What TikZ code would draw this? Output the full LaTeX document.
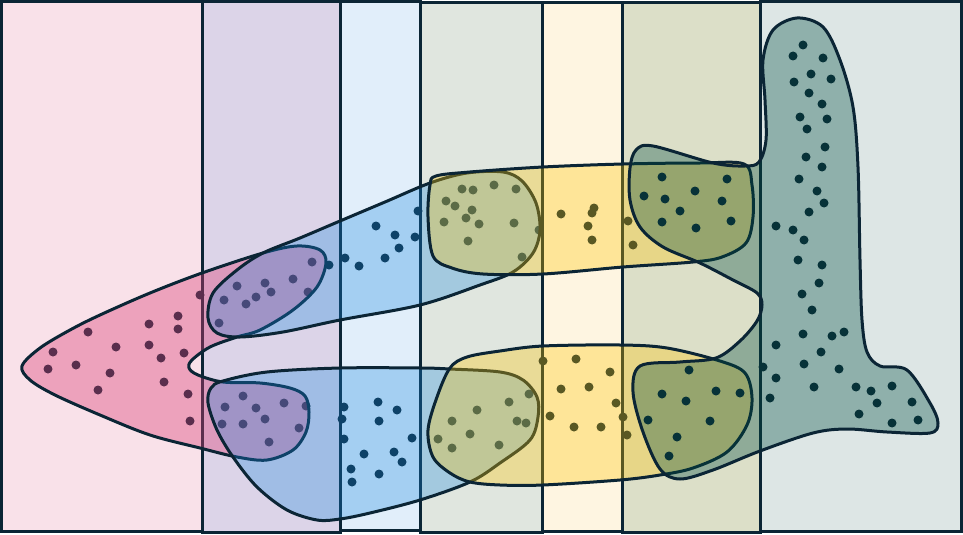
\documentclass[tikz,border=0pt]{standalone}
\usepackage{xcolor}
\usepackage{tikz}

\definecolor{ink}{HTML}{0B2535}
\definecolor{stripA}{HTML}{F9E1E9}
\definecolor{stripB}{HTML}{DCD4E8}
\definecolor{stripC}{HTML}{E1EEFA}
\definecolor{stripD}{HTML}{E0E6DF}
\definecolor{stripE}{HTML}{FEF5E1}
\definecolor{stripF}{HTML}{DCDFC8}
\definecolor{stripG}{HTML}{DDE6E5}
\definecolor{pinkset}{RGB}{220,62,117}
\definecolor{blueset}{RGB}{24,136,224}
\definecolor{yellowset}{RGB}{255,196,0}
\definecolor{tealset}{RGB}{0,76,64}

\begin{document}
\begin{tikzpicture}[x=1pt,y=-1pt,
        strip/.style={draw=ink, line width=3pt},
        blob/.style={draw=ink, line width=3pt, line join=round},
        dot/.style={fill=ink}
    ]
        \useasboundingbox (0,0) rectangle (963,535);

        % columns
        \draw[strip, fill=stripA] (1.5,1.5) rectangle (202,531);
        \draw[strip, fill=stripB] (202,2) rectangle (340,532);
        \draw[strip, fill=stripC] (340,1.5) rectangle (420,530);
        \draw[strip, fill=stripD] (420,3) rectangle (542,532);
        \draw[strip, fill=stripE] (542,3) rectangle (622,531);
        \draw[strip, fill=stripF] (622,3) rectangle (760,532);
        \draw[strip, fill=stripG] (760,2) rectangle (961,531);

        % points
        \foreach \p in {(200,295),(178,316),(149,324),(178,329),(88,332),(116,347),(149,345),(184,353),(53,352),(161,358),(48,369),(76,365),(110,373),(164,382),(98,390),(188,394),(190,421),
                (312,262),(237,286),(265,283),(271,292),(256,297),(293,279),(308,292),(224,300),(246,304),(219,323),
                (243,396),(225,407),(256,408),(284,403),(306,406),(265,419),(222,424),(243,424),(299,428),(269,442),
                (418,211),(376,226),(395,235),(415,237),(399,248),(385,258),(345,258),(359,266),(329,265),
                (344,407),(342,419),(378,402),(397,410),(379,421),(344,439),(412,438),(364,454),(394,452),(402,462),(351,469),(352,482),(379,474),
                (462,189),(473,190),(494,185),(516,189),(446,201),(455,206),(472,210),(466,218),(444,222),(479,224),(514,223),(468,241),(522,257),(539,230),
                (529,394),(509,402),(477,410),(452,421),(517,421),(526,423),(470,434),(438,439),(452,448),(499,445),
                (561,214),(594,208),(592,213),(588,226),(592,240),(628,221),(633,245),
                (543,361),(576,359),(610,372),(561,389),(589,387),(616,403),(550,416),(623,417),(574,427),(601,427),(627,435),
                (803,45),(793,56),(823,58),(811,74),(831,79),(794,82),(809,93),(822,104),(800,117),(827,119),(807,129),(825,147),(806,157),(822,167),(799,179),(817,191),(824,203),(809,212),(776,226),(793,230),(804,240),(798,260),(822,265),(819,283),(802,294),(812,310),(776,345),(803,334),(832,336),(844,332),(821,352),(763,367),(776,378),(804,364),(839,369),(814,387),(770,398),(856,387),(871,391),(892,386),(877,403),(912,402),(859,414),(892,423),(918,420)}
            \fill[dot] \p circle (4.5pt);

        % pink set
        \draw[blob, fill=pinkset, fill opacity=.38] plot[smooth cycle, tension=.55] coordinates {(22,366) (40,348) (70,330) (100,315) (150,293) (202,273) (263,253) (297,246) (320,250) (326,263) (317,287) (293,310) (260,330) (237,337) (210,347) (192,360) (189,368) (198,375) (223,382) (260,383) (290,388) (305,396) (309,412) (306,432) (293,450) (267,460) (237,457) (200,448) (150,435) (100,415) (55,395) (30,380)};

        % blue sets
        \draw[blob, fill=blueset, fill opacity=.3] plot[smooth cycle, tension=.55] coordinates {(263,253) (300,238) (340,221) (385,202) (430,183) (467,173) (503,172) (522,181) (536,203) (540,230) (533,253) (513,272) (480,285) (420,305) (340,320) (283,332) (240,337) (217,333) (208,318) (213,293) (237,270)};
        \draw[blob, fill=blueset, fill opacity=.3] plot[smooth cycle, tension=.55] coordinates {(223,381) (267,372) (340,368) (420,368) (450,369) (500,372) (523,380) (537,397) (538,417) (530,440) (500,463) (470,482) (420,500) (370,513) (340,519) (317,520) (287,510) (257,487) (233,457) (217,430) (208,403) (211,388)};

        % yellow sets
        \draw[blob, fill=yellowset, fill opacity=.32] plot[smooth cycle, tension=.55] coordinates {(436,176) (470,172) (543,167) (623,164) (700,163) (744,164) (752,185) (753,217) (746,243) (722,257) (693,262) (623,267) (543,274) (483,274) (452,268) (433,256) (428,217) (430,185)};
        \draw[blob, fill=yellowset, fill opacity=.32] plot[smooth cycle, tension=.55] coordinates {(450,368) (467,357) (500,351) (543,346) (620,345) (667,348) (720,361) (745,373) (752,398) (747,425) (727,452) (693,468) (660,475) (620,480) (543,485) (500,485) (470,482) (450,473) (433,457) (428,430) (437,397)};

        \foreach \p in {(662,177),(644,196),(665,199),(695,191),(727,179),(722,201),(680,211),(662,222),(696,228),(731,221),
                (689,370),(662,394),(686,401),(716,391),(740,393),(648,420),(710,421),(677,437),(669,456)}
            \fill[dot] \p circle (4.5pt);

        % teal set
        \draw[blob, fill=tealset, fill opacity=.35] plot[smooth cycle, tension=.55] coordinates {(797,18) (823,27) (840,60) (853,107) (858,167) (860,260) (862,320) (867,352) (880,366) (907,370) (930,403) (938,423) (930,433) (887,432) (847,429) (813,433) (760,451) (713,470) (680,479) (660,469) (643,432) (633,392) (640,366) (680,362) (716,358) (740,341) (757,321) (762,305) (757,293) (733,280) (700,263) (663,247) (640,227) (630,200) (630,168) (636,150) (653,146) (713,163) (745,166) (759,162) (766,140) (765,100) (763,60) (773,30)};
    \end{tikzpicture}
\end{document}
